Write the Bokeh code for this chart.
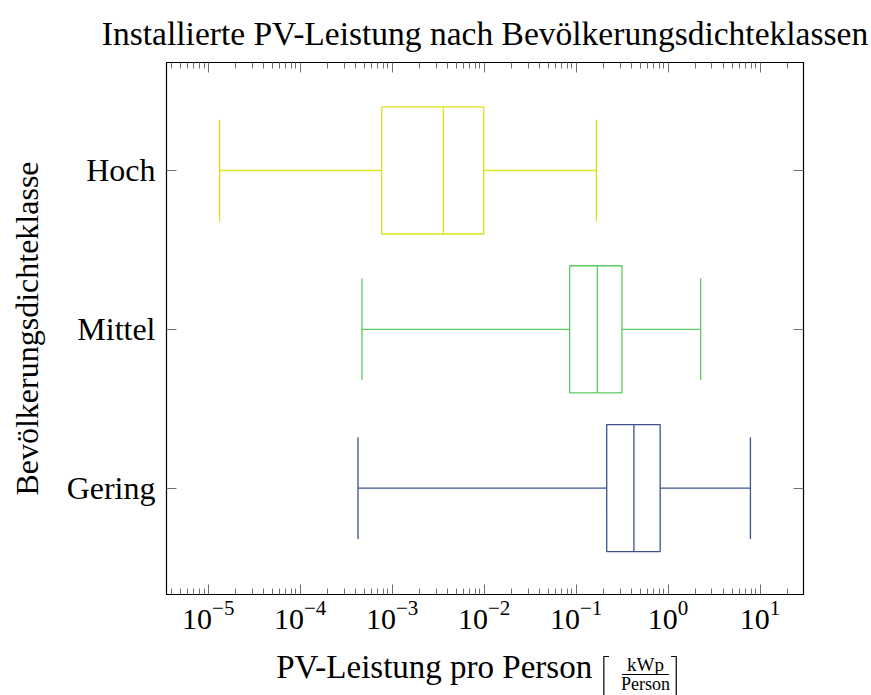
from bokeh.plotting import figure
from bokeh.layouts import column
from bokeh.models import FixedTicker, LogAxis, LinearAxis, Range1d
from bokeh.core.properties import value
from bokeh.embed import file_html
from bokeh.resources import INLINE

# ---- data ----
categories = ["Gering", "Mittel", "Hoch"]
positions = [1, 2, 3]
whisker_low = [4.25e-4, 4.7e-4, 1.33e-5]
q1 = [0.215, 0.085, 7.7e-4]
median = [0.425, 0.17, 3.6e-3]
q3 = [0.82, 0.315, 9.9e-3]
whisker_high = [7.85, 2.26, 0.166]
colors = ["#3b528b", "#5ec962", "#dde318"]

major_ticks = [1e-5, 1e-4, 1e-3, 1e-2, 1e-1, 1e0, 1e1]
minor_ticks = [m * 10.0 ** k for k in range(-6, 2) for m in range(2, 10)]

title_text = "Installierte PV-Leistung nach Bevölkerungsdichteklassen"
y_label = "Bevölkerungsdichteklasse"
x_label_main = "PV-Leistung pro Person"
x_label_num = "kWp"
x_label_den = "Person"

FONT = "Liberation Serif"
TICKC = "#707070"
W = 871
H_MAIN = 650
H_STRIP = 45

p = figure(width=W, height=H_MAIN, x_axis_type="log",
           x_range=Range1d(10 ** -5.4536, 10 ** 1.472),
           y_range=Range1d(0.33, 3.68),
           output_backend="svg", toolbar_location=None,
           min_border_left=166, min_border_top=62,
           min_border_right=68, min_border_bottom=56)

p.title.text = title_text
p.title.text_font = FONT
p.title.text_font_size = "33.5px"
p.title.text_font_style = "normal"
p.title.align = "center"
p.title.text_color = "black"
p.title.standoff = 22

p.grid.visible = False
p.outline_line_color = "black"
p.outline_line_width = 1.2

# bottom x axis
xa = p.xaxis[0]
xa.ticker = FixedTicker(ticks=major_ticks, minor_ticks=minor_ticks)
xa.major_tick_in = 10
xa.major_tick_out = 0
xa.minor_tick_in = 6
xa.minor_tick_out = 0
xa.major_tick_line_color = TICKC
xa.minor_tick_line_color = TICKC
xa.axis_line_color = "black"
xa.major_label_text_font = FONT
xa.major_label_text_font_size = "30px"
xa.major_label_text_color = "black"
xa.major_label_standoff = 6

# left y axis
ya = p.yaxis[0]
ya.ticker = FixedTicker(ticks=positions, minor_ticks=[])
ya.major_label_overrides = {pos: cat for pos, cat in zip(positions, categories)}
ya.major_tick_in = 10
ya.major_tick_out = 0
ya.minor_tick_line_color = None
ya.major_tick_line_color = TICKC
ya.axis_line_color = "black"
ya.major_label_text_font = FONT
ya.major_label_text_font_size = "32px"
ya.major_label_text_color = "black"
ya.major_label_standoff = 11
ya.axis_label = y_label
ya.axis_label_text_font = FONT
ya.axis_label_text_font_size = "32px"
ya.axis_label_text_font_style = "normal"
ya.axis_label_text_color = "black"
ya.axis_label_standoff = 19

# top and right axes (ticks only)
ta = LogAxis(ticker=FixedTicker(ticks=major_ticks, minor_ticks=minor_ticks),
             major_tick_in=10, major_tick_out=0, minor_tick_in=6, minor_tick_out=0,
             major_tick_line_color=TICKC, minor_tick_line_color=TICKC,
             axis_line_color="black", major_label_text_font_size="1px",
             major_label_text_alpha=0, major_label_standoff=0)
p.add_layout(ta, "above")
ra = LinearAxis(ticker=FixedTicker(ticks=positions, minor_ticks=[]),
                major_tick_in=10, major_tick_out=0, minor_tick_line_color=None,
                major_tick_line_color=TICKC, axis_line_color="black",
                major_label_text_font_size="1px", major_label_text_alpha=0,
                major_label_standoff=0)
p.add_layout(ra, "right")

# ---- boxes ----
BOX_H = 0.8
CAP_H = 0.64
lo_box = [y - BOX_H / 2 for y in positions]
hi_box = [y + BOX_H / 2 for y in positions]
lo_cap = [y - CAP_H / 2 for y in positions]
hi_cap = [y + CAP_H / 2 for y in positions]

LW = 1.3
p.hbar(y=positions, left=q1, right=q3, height=BOX_H, fill_color=None,
       line_color=colors, line_width=LW)
p.segment(x0=median, y0=lo_box, x1=median, y1=hi_box, line_color=colors, line_width=LW)
p.segment(x0=whisker_low, y0=positions, x1=q1, y1=positions, line_color=colors, line_width=LW)
p.segment(x0=q3, y0=positions, x1=whisker_high, y1=positions, line_color=colors, line_width=LW)
p.segment(x0=whisker_low, y0=lo_cap, x1=whisker_low, y1=hi_cap, line_color=colors, line_width=LW)
p.segment(x0=whisker_high, y0=lo_cap, x1=whisker_high, y1=hi_cap, line_color=colors, line_width=LW)

# ---- x axis label strip (pixel coordinates: x = page x, y = page y) ----
q = figure(width=W, height=H_STRIP, title=None,
           x_range=Range1d(0, W), y_range=Range1d(H_MAIN + H_STRIP, H_MAIN),
           output_backend="svg", toolbar_location=None,
           x_axis_location=None, y_axis_location=None,
           min_border=0, outline_line_color=None)
q.grid.visible = False

q.text(x=[582], y=[666], text=[x_label_main], text_font=value(FONT),
       text_font_size="33px", text_align="right", text_baseline="alphabetic",
       text_color="black")
q.text(x=[655], y=[664], text=[x_label_num], text_font=value(FONT),
       text_font_size="19px", text_align="center", text_baseline="alphabetic",
       text_color="black")
q.text(x=[655], y=[683], text=[x_label_den], text_font=value(FONT),
       text_font_size="18px", text_align="center", text_baseline="alphabetic",
       text_color="black")
# fraction bar and the two square brackets
q.segment(x0=[623], y0=[674], x1=[687], y1=[674], line_color="black", line_width=1)
q.multi_line(xs=[[605, 598, 598, 605], [690, 697, 697, 690]],
             ys=[[656, 656, 700, 700], [656, 656, 700, 700]],
             line_color="black", line_width=1.2)

layout = column(p, q, spacing=0)
open("out.html", "w").write(file_html(layout, INLINE))
